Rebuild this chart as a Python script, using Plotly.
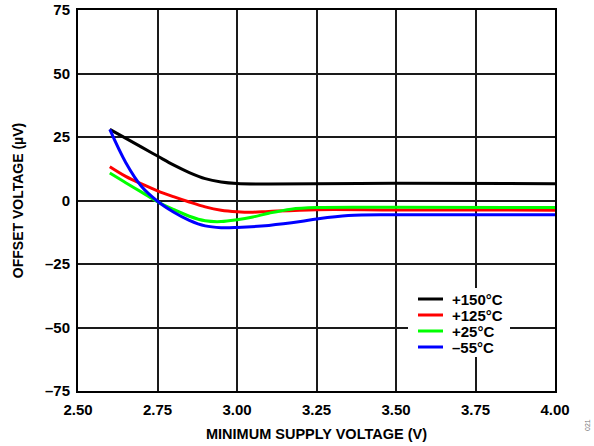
import plotly.graph_objects as go

# Data
v_150 = [2.60, 2.70, 2.75, 2.80, 2.85, 2.90, 2.95, 3.00, 3.10, 3.50, 4.00]
y_150 = [28.0, 21.0, 17.5, 14.0, 11.0, 8.6, 7.3, 6.7, 6.5, 6.8, 6.6]

v_125 = [2.60, 2.65, 2.70, 2.75, 2.80, 2.85, 2.90, 2.95, 3.00, 3.05, 3.10, 3.25, 3.50, 4.00]
y_125 = [13.3, 9.5, 6.5, 3.8, 1.5, -0.6, -2.5, -3.8, -4.4, -4.6, -4.3, -3.6, -3.7, -3.8]

v_25 = [2.60, 2.65, 2.70, 2.75, 2.80, 2.85, 2.90, 2.95, 3.00, 3.05, 3.10, 3.17, 3.25, 3.50, 4.00]
y_25 = [10.8, 7.0, 3.3, -0.5, -3.5, -6.2, -8.0, -8.3, -7.6, -6.5, -5.0, -3.4, -2.8, -2.7, -2.8]

v_m55 = [2.60, 2.65, 2.70, 2.75, 2.80, 2.85, 2.90, 2.95, 3.00, 3.10, 3.20, 3.25, 3.35, 3.50, 4.00]
y_m55 = [28.0, 15.0, 5.5, -0.3, -4.5, -7.8, -10.0, -10.7, -10.6, -9.8, -8.3, -7.3, -5.9, -5.6, -5.6]

series_names = ["+150°C", "+125°C", "+25°C", "–55°C"]
series_x = [v_150, v_125, v_25, v_m55]
series_y = [y_150, y_125, y_25, y_m55]
series_colors = ["#000000", "#ff0000", "#00ff00", "#0000ff"]

x_ticks = [2.50, 2.75, 3.00, 3.25, 3.50, 3.75, 4.00]
x_ticktext = ["2.50", "2.75", "3.00", "3.25", "3.50", "3.75", "4.00"]
y_ticks = [-75, -50, -25, 0, 25, 50, 75]
y_ticktext = ["–75", "–50", "–25", "0", "25", "50", "75"]

FONT = "Liberation Sans, Arial, sans-serif"

# page size and plot area (page pixels)
W, H = 594, 446
L, R, T, B = 78, 555, 10, 391


def px(xp):
    return (xp - L) / (R - L)


def py(yp):
    return (B - yp) / (B - T)


fig = go.Figure()
for name, xs, ys, color in zip(series_names, series_x, series_y, series_colors):
    fig.add_trace(go.Scatter(
        x=xs, y=ys, mode="lines", name=name, showlegend=False,
        line=dict(color=color, width=3, shape="spline", smoothing=1.0),
    ))

axis_common = dict(
    showline=True, linecolor="#000000", linewidth=2, mirror=True,
    showgrid=True, gridcolor="#1a1a1a", gridwidth=1.5,
    zeroline=False, ticks="", automargin=False,
    tickfont=dict(family=FONT, size=15, color="#000000", weight="bold"),
)

fig.update_layout(
    width=W, height=H,
    margin=dict(l=L, r=W - R, t=T, b=H - B),
    paper_bgcolor="white", plot_bgcolor="white",
    font=dict(family=FONT, color="#000000"),
    xaxis=dict(
        range=[2.5, 4.0], tickvals=x_ticks, ticktext=x_ticktext,
        ticklabelstandoff=4,
        title=dict(text="MINIMUM SUPPLY VOLTAGE (V)", standoff=12,
                   font=dict(family=FONT, size=14.5, weight="bold")),
        **axis_common,
    ),
    yaxis=dict(
        range=[-75, 75], tickvals=y_ticks, ticktext=y_ticktext,
        ticklabelstandoff=3,
        title=dict(text="OFFSET VOLTAGE (µV)", standoff=18,
                   font=dict(family=FONT, size=14, weight="bold")),
        **axis_common,
    ),
    showlegend=False,
)

# Legend (manual, to match the compact row spacing of the reference)
fig.add_shape(type="rect", xref="paper", yref="paper",
              x0=px(408), x1=px(510), y0=py(357), y1=py(288),
              fillcolor="white", line=dict(width=0), layer="above")
row_y = [299, 315, 331, 347]
for name, color, yy in zip(series_names, series_colors, row_y):
    fig.add_shape(type="line", xref="paper", yref="paper",
                  x0=px(418), x1=px(443), y0=py(yy), y1=py(yy),
                  line=dict(color=color, width=3), layer="above")
    fig.add_annotation(text=name, xref="paper", yref="paper",
                       x=px(450), y=py(yy), xanchor="left", yanchor="middle",
                       showarrow=False,
                       font=dict(family=FONT, size=15, weight="bold", color="#000000"))

fig.add_annotation(
    text="021", xref="paper", yref="paper", x=px(588), y=py(425),
    xanchor="center", yanchor="middle",
    textangle=-90, showarrow=False,
    font=dict(family=FONT, size=7, color="#777777"),
)

fig.write_html("out.html", config={"displayModeBar": False},
               post_script="document.body.style.margin='0';")
